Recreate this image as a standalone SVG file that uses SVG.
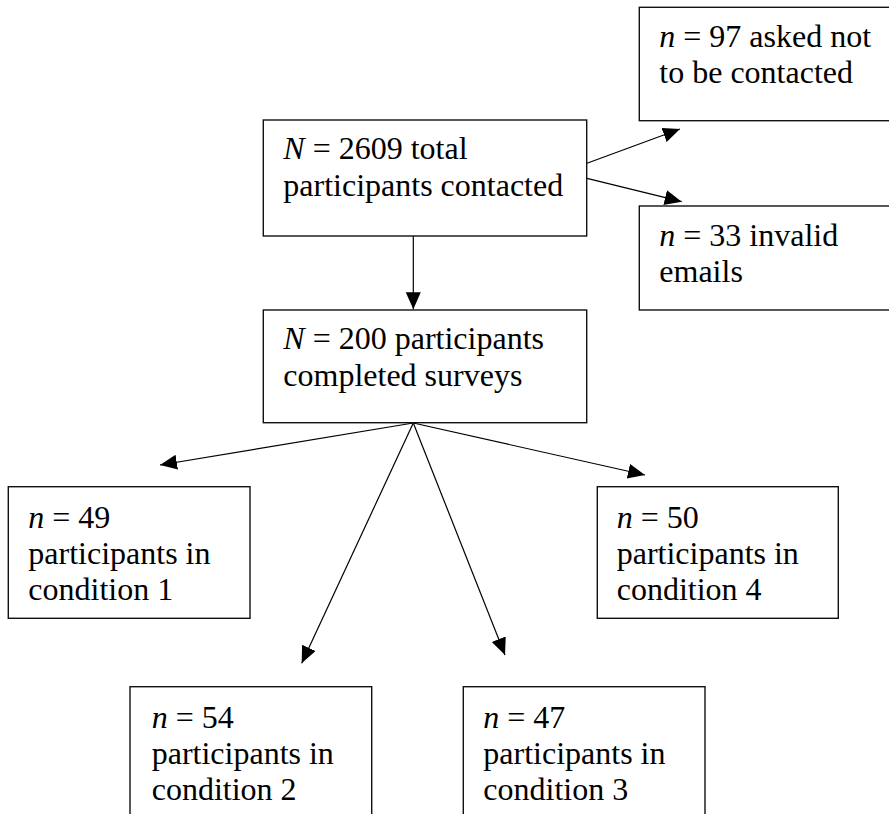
<svg xmlns="http://www.w3.org/2000/svg" width="889" height="814" viewBox="0 0 889 814">
<style>
.box{fill:#fff;stroke:#111;stroke-width:1.4}
.t{font-family:"Liberation Serif","Times New Roman",serif;font-size:32px;fill:#000}
.i{font-style:italic}
.c{stroke:#000;stroke-width:1.2;fill:none;marker-end:url(#ah)}
</style>
<defs>
<marker id="ah" markerUnits="userSpaceOnUse" markerWidth="19" markerHeight="17" refX="17" refY="7.5" orient="auto">
<path d="M0,0 L17,7.5 L0,15 Z" fill="#000"/>
</marker>
</defs>
<rect width="889" height="814" fill="#fff"/>
<g id="connectors">
<line class="c" x1="413.3" y1="236" x2="413.3" y2="309.3"/>
<line class="c" x1="587" y1="163.3" x2="680" y2="129"/>
<line class="c" x1="587" y1="178.3" x2="681.7" y2="201.7"/>
<line class="c" x1="413.3" y1="423" x2="160" y2="465"/>
<line class="c" x1="413.3" y1="423" x2="301.7" y2="663.3"/>
<line class="c" x1="413.3" y1="423" x2="505" y2="655"/>
<line class="c" x1="413.3" y1="423" x2="645" y2="475"/>
</g>
<g id="asked">
<rect class="box" x="639.3" y="7.3" width="260" height="113.4"/>
<text class="t" x="659.3" y="46.7"><tspan class="i">n</tspan> = 97 asked not</text>
<text class="t" x="659.3" y="83.3">to be contacted</text>
</g>
<g id="total">
<rect class="box" x="263.3" y="120" width="323.4" height="116"/>
<text class="t" x="283.3" y="159.4"><tspan class="i">N</tspan> = 2609 total</text>
<text class="t" x="283.3" y="196.2">participants contacted</text>
</g>
<g id="invalid">
<rect class="box" x="639.3" y="206" width="260" height="104"/>
<text class="t" x="659.3" y="246"><tspan class="i">n</tspan> = 33 invalid</text>
<text class="t" x="659.3" y="282">emails</text>
</g>
<g id="completed">
<rect class="box" x="263.3" y="310" width="323.4" height="112.7"/>
<text class="t" x="283.3" y="349.4"><tspan class="i">N</tspan> = 200 participants</text>
<text class="t" x="283.3" y="386.2">completed surveys</text>
</g>
<g id="cond1">
<rect class="box" x="8.3" y="486.7" width="241.7" height="131.6"/>
<text class="t" x="28.3" y="527.5"><tspan class="i">n</tspan> = 49</text>
<text class="t" x="28.3" y="563.5">participants in</text>
<text class="t" x="28.3" y="599.5">condition 1</text>
</g>
<g id="cond4">
<rect class="box" x="597.3" y="486.7" width="241" height="131.6"/>
<text class="t" x="616.7" y="527.5"><tspan class="i">n</tspan> = 50</text>
<text class="t" x="616.7" y="563.5">participants in</text>
<text class="t" x="616.7" y="599.5">condition 4</text>
</g>
<g id="cond2">
<rect class="box" x="130" y="686.7" width="241.7" height="140"/>
<text class="t" x="151.7" y="727.5"><tspan class="i">n</tspan> = 54</text>
<text class="t" x="151.7" y="763.5">participants in</text>
<text class="t" x="151.7" y="799.5">condition 2</text>
</g>
<g id="cond3">
<rect class="box" x="463.3" y="686.7" width="241.7" height="140"/>
<text class="t" x="483.3" y="727.5"><tspan class="i">n</tspan> = 47</text>
<text class="t" x="483.3" y="763.5">participants in</text>
<text class="t" x="483.3" y="799.5">condition 3</text>
</g>
</svg>
